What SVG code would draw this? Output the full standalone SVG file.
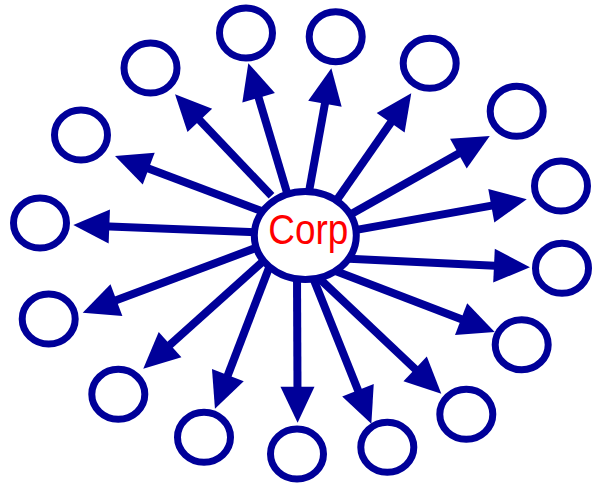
<svg xmlns="http://www.w3.org/2000/svg" width="593" height="484" viewBox="0 0 593 484">
<style>
.node{fill:#fff;stroke:#000099;stroke-width:7}
.conn{stroke:#000099;stroke-width:8;fill:none;marker-end:url(#ah)}
.lbl{font-family:"Liberation Sans",Arial,sans-serif;font-size:42px;fill:#ff0000}
</style>
<defs>
<marker id="ah" markerUnits="userSpaceOnUse" viewBox="-10 -20 50 40" markerWidth="50" markerHeight="40" refX="0" refY="0" orient="auto" overflow="visible">
<path d="M-6,-17 L30,0 L-6,17 z" fill="#000099"/>
</marker>
</defs>
<rect width="593" height="484" fill="#fff"/>
<g id="connectors">
<line class="conn" x1="287.3" y1="193.7" x2="256.9" y2="92.0"/>
<line class="conn" x1="271.5" y1="195.8" x2="195.7" y2="116.0"/>
<line class="conn" x1="263.5" y1="211.8" x2="143.1" y2="166.6"/>
<line class="conn" x1="259" y1="232.3" x2="103.3" y2="226.2"/>
<line class="conn" x1="308.6" y1="193.9" x2="326" y2="97.8"/>
<line class="conn" x1="336.4" y1="200.6" x2="394.1" y2="117.9"/>
<line class="conn" x1="346" y1="216.9" x2="463.6" y2="150.7"/>
<line class="conn" x1="348.1" y1="231.4" x2="497.2" y2="204.6"/>
<line class="conn" x1="344" y1="258.6" x2="500" y2="265.9"/>
<line class="conn" x1="335.5" y1="271.1" x2="466.7" y2="321.3"/>
<line class="conn" x1="317.2" y1="276.5" x2="419.5" y2="373.1"/>
<line class="conn" x1="311.7" y1="274.6" x2="360.2" y2="395.8"/>
<line class="conn" x1="297" y1="275" x2="297.5" y2="392.7"/>
<line class="conn" x1="269.9" y1="265.5" x2="225.7" y2="380.7"/>
<line class="conn" x1="266" y1="258.7" x2="165.6" y2="348.7"/>
<line class="conn" x1="260.5" y1="246.2" x2="110.8" y2="302.2"/>
</g>
<g id="corp">
<ellipse class="node" cx="305.3" cy="235.5" rx="51" ry="44"/>
<text class="lbl" x="308.3" y="244" text-anchor="middle" textLength="80" lengthAdjust="spacingAndGlyphs">Corp</text>
</g>
<g id="n1"><ellipse class="node" cx="246" cy="33" rx="26.5" ry="25"/></g>
<g id="n2"><ellipse class="node" cx="150.5" cy="68" rx="26.5" ry="25"/></g>
<g id="n3"><ellipse class="node" cx="81" cy="135" rx="26.5" ry="25"/></g>
<g id="n4"><ellipse class="node" cx="40" cy="223" rx="26.5" ry="25"/></g>
<g id="n5"><ellipse class="node" cx="48.7" cy="319" rx="26.5" ry="25"/></g>
<g id="n6"><ellipse class="node" cx="118.3" cy="394.3" rx="26.5" ry="25"/></g>
<g id="n7"><ellipse class="node" cx="204" cy="437.3" rx="26.5" ry="25"/></g>
<g id="n8"><ellipse class="node" cx="297" cy="454" rx="26.5" ry="25"/></g>
<g id="n9"><ellipse class="node" cx="387.3" cy="447.3" rx="26.5" ry="25"/></g>
<g id="n10"><ellipse class="node" cx="466.3" cy="414.3" rx="26.5" ry="25"/></g>
<g id="n11"><ellipse class="node" cx="521.7" cy="344.7" rx="26.5" ry="25"/></g>
<g id="n12"><ellipse class="node" cx="562" cy="268.3" rx="26.5" ry="25"/></g>
<g id="n13"><ellipse class="node" cx="561" cy="186" rx="26.5" ry="25"/></g>
<g id="n14"><ellipse class="node" cx="516.7" cy="111.3" rx="26.5" ry="25"/></g>
<g id="n15"><ellipse class="node" cx="429.7" cy="63.3" rx="26.5" ry="25"/></g>
<g id="n16"><ellipse class="node" cx="335.7" cy="36.7" rx="26.5" ry="25"/></g>
</svg>
